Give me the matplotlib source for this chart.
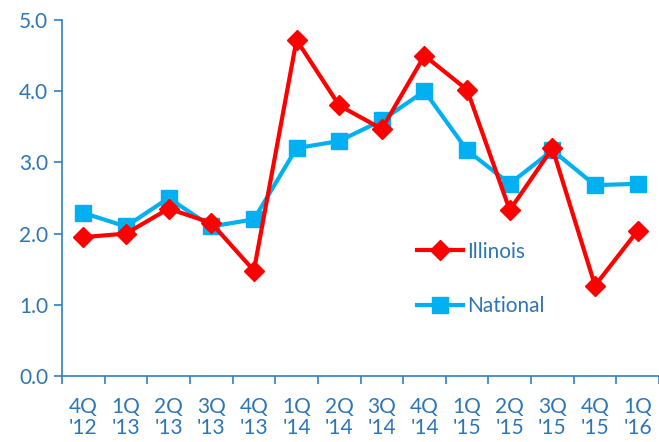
import matplotlib.pyplot as plt
import numpy as np

quarters = ["4Q\n'12", "1Q\n'13", "2Q\n'13", "3Q\n'13", "4Q\n'13", "1Q\n'14", "2Q\n'14",
            "3Q\n'14", "4Q\n'14", "1Q\n'15", "2Q\n'15", "3Q\n'15", "4Q\n'15", "1Q\n'16"]
illinois = [1.95, 2.0, 2.35, 2.15, 1.48, 4.72, 3.8, 3.47, 4.5, 4.02, 2.33, 3.2, 1.27, 2.04]
national = [2.29, 2.1, 2.5, 2.1, 2.2, 3.2, 3.3, 3.59, 4.0, 3.17, 2.7, 3.17, 2.68, 2.7]

AXIS_BLUE = '#2F7FC1'
TEXT_BLUE = '#2E75B6'

plt.rcParams['font.family'] = ['Lato', 'DejaVu Sans']

fig = plt.figure(figsize=(6.59, 4.42), dpi=100)
ax = fig.add_axes([62 / 659, 66 / 442, 597 / 659, 356 / 442])

x = np.arange(len(quarters))
ax.plot(x, illinois, color='#FF0000', lw=3, marker='D', ms=10, label='Illinois', zorder=3)
ax.plot(x, national, color='#00B0F0', lw=3, marker='s', ms=12, label='National', zorder=2)

ax.set_xlim(-0.5, len(quarters) - 0.5)
ax.set_ylim(0, 5)
ax.set_yticks(np.arange(0, 5.01, 1.0))
ax.set_yticklabels([f'{v:.1f}' for v in np.arange(0, 5.01, 1.0)])
ax.set_xticks(x)
ax.set_xticklabels(quarters, linespacing=1.05)
ax.set_xticks(np.arange(-0.5, len(quarters), 1.0), minor=True)

for s in ['top', 'right']:
    ax.spines[s].set_visible(False)
for s in ['left', 'bottom']:
    ax.spines[s].set_color(AXIS_BLUE)
    ax.spines[s].set_linewidth(1.2)

ax.tick_params(axis='y', colors=AXIS_BLUE, labelcolor=TEXT_BLUE, labelsize=15,
               length=6, width=1.2, pad=4)
ax.tick_params(axis='x', which='major', length=0, labelcolor=TEXT_BLUE, labelsize=15, pad=15)
ax.tick_params(axis='x', which='minor', colors=AXIS_BLUE, length=6, width=1.2)

leg = ax.legend(loc='upper left', bbox_to_anchor=(0.563, 0.43), frameon=False,
                fontsize=15, labelspacing=1.64, handlelength=2.2, handletextpad=0.2)
for t in leg.get_texts():
    t.set_color(TEXT_BLUE)

fig.savefig('out.png', dpi=100)
